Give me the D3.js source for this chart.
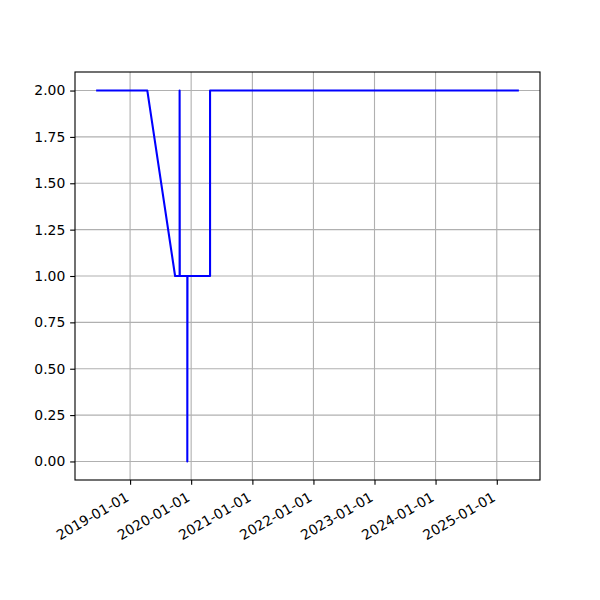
<!DOCTYPE html>
<html><head><meta charset="utf-8">
<script src="https://cdn.jsdelivr.net/npm/d3@7"></script>
<style>body{margin:0;background:#fff}svg{display:block}text{font-family:"DejaVu Sans",sans-serif}</style>
</head><body>
<script>
const dates = ["2018-06-12","2019-04-14","2019-09-27","2019-10-24","2019-10-24","2019-10-25","2019-12-09","2019-12-09","2019-12-10","2020-04-23","2020-04-23","2025-05-13"];
const values = [2,2,1,1,2,1,1,0,1,1,2,2];
const yTicks = [0,0.25,0.5,0.75,1,1.25,1.5,1.75,2];
const xTickLabels = ["2019-01-01","2020-01-01","2021-01-01","2022-01-01","2023-01-01","2024-01-01","2025-01-01"];

const W=600,H=600,L=75,R=540,T=72,B=480;
const FS=13.9, TL=4.86, TW=1.11;
const parse=d3.utcParse("%Y-%m-%d");
const pts=dates.map((d,i)=>({d:parse(d),v:values[i]}));
const ext=d3.extent(pts,p=>+p.d);
const span=ext[1]-ext[0];
const x=d3.scaleUtc().domain([new Date(ext[0]-span*0.05),new Date(ext[1]+span*0.05)]).range([L,R]);
const y=d3.scaleLinear().domain([-0.1,2.1]).range([B,T]);
const svg=d3.select("body").append("svg").attr("width",W).attr("height",H);
const xt=xTickLabels.map(parse);
// grid
svg.append("g").selectAll("line").data(xt).join("line")
 .attr("x1",d=>x(d)).attr("x2",d=>x(d)).attr("y1",T).attr("y2",B)
 .attr("stroke","#b0b0b0").attr("stroke-width",TW);
svg.append("g").selectAll("line").data(yTicks).join("line")
 .attr("x1",L).attr("x2",R).attr("y1",d=>y(d)).attr("y2",d=>y(d))
 .attr("stroke","#b0b0b0").attr("stroke-width",TW);
// line
svg.append("path").datum(pts).attr("fill","none").attr("stroke","#0000ff").attr("stroke-width",2.08)
 .attr("stroke-linejoin","round").attr("stroke-linecap","butt")
 .attr("d",d3.line().x(p=>x(p.d)).y(p=>y(p.v)));
// axes
const ya=svg.append("g").attr("transform",`translate(${L},0)`)
 .call(d3.axisLeft(y).tickValues(yTicks).tickFormat(d3.format(".2f")).tickSizeInner(TL).tickSizeOuter(0).tickPadding(TL));
ya.select(".domain").remove();
ya.selectAll("line").attr("stroke","#000").attr("stroke-width",TW);
ya.selectAll("text").attr("font-size",FS).attr("fill","#000").attr("font-family","DejaVu Sans");
const xa=svg.append("g").attr("transform",`translate(0,${B})`)
 .call(d3.axisBottom(x).tickValues(xt).tickFormat(d3.utcFormat("%Y-%m-%d")).tickSizeInner(TL).tickSizeOuter(0));
xa.select(".domain").remove();
xa.selectAll("line").attr("stroke","#000").attr("stroke-width",TW);
xa.selectAll("text").attr("font-size",FS).attr("fill","#000").attr("font-family","DejaVu Sans")
 .attr("text-anchor","end").attr("dy",null).attr("y",null)
 .attr("dominant-baseline","hanging")
 .attr("transform","translate(-6,11) rotate(-30)");
// frame
svg.append("rect").attr("x",L).attr("y",T).attr("width",R-L).attr("height",B-T)
 .attr("fill","none").attr("stroke","#000").attr("stroke-width",TW);
</script>
</body></html>
